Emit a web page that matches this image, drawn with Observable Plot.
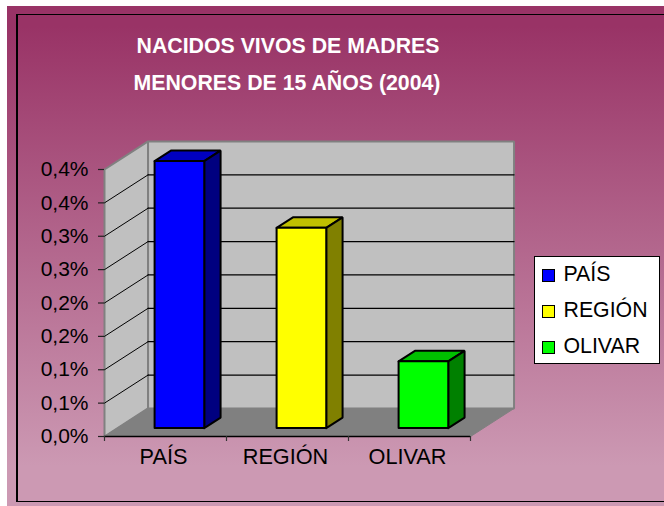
<!DOCTYPE html>
<html><head><meta charset="utf-8">
<script src="https://cdn.jsdelivr.net/npm/d3@7"></script>
<script src="https://cdn.jsdelivr.net/npm/@observablehq/plot@0.6"></script>
<style>
html,body{margin:0;padding:0;background:#fff;overflow:hidden}
#page{position:relative;width:664px;height:506px;overflow:hidden;font-family:"Liberation Sans",Arial,sans-serif}
#bg{position:absolute;left:7px;top:6px;width:657px;height:500px;background:linear-gradient(180deg,#993366 0%,#993366 4%,#CC99B3 92%,#CC99B3 100%)}
#edge{position:absolute;left:16px;top:14px;width:700px;height:486px;border:1.5px solid #000;border-left-width:2px}
#chart{position:absolute;left:0;top:0}
.title{position:absolute;left:88px;width:400px;text-align:center;color:#fff;font-weight:bold;font-size:21.3px;line-height:24px;white-space:nowrap}
#legend{position:absolute;left:534px;top:256px;width:124px;height:106px;background:#fff;border:1px solid #000;color:#000;font-size:21.3px}
#legend .row{position:absolute;left:7px;height:24px;line-height:24px;white-space:nowrap}
#legend .sw{position:absolute;left:0;top:7px;width:11px;height:11px;border:1.5px solid #000}
#legend .lb{position:absolute;left:21.5px;top:0}
</style></head>
<body>
<div id="page">
<div id="bg"></div><div id="edge"></div>
<div id="chart"></div>
<div class="title" style="top:34px">NACIDOS VIVOS DE MADRES</div>
<div class="title" style="top:71px;left:87px">MENORES DE 15 AÑOS (2004)</div>
<div id="legend"></div>
</div>
<script>
const categories = ["PAÍS", "REGIÓN", "OLIVAR"];
const values = [0.40, 0.30, 0.10];
const tickValues = [0, 0.05, 0.10, 0.15, 0.20, 0.25, 0.30, 0.35, 0.40];
const tickLabels = ["0,0%", "0,1%", "0,1%", "0,2%", "0,2%", "0,3%", "0,3%", "0,4%", "0,4%"];
const frontColors = ["#0000FF", "#FFFF00", "#00FF00"];
const topColors = ["#0000C0", "#C0C000", "#00C000"];
const sideColors = ["#000080", "#808000", "#008000"];

// oblique projection, in data units (category widths and percent values)
const depthX = 0.357, depthY = 0.042;
const barWidth = 0.407, barShift = 0.007, barFront = 0.30, barBack = 0.675, n = categories.length, vMax = 0.40;
const P = (cat, val, d) => ({x: cat + d * depthX, y: val + d * depthY});
const poly = (pts, fill, stroke, strokeWidth) =>
  Plot.line([...pts, pts[0]], {x: "x", y: "y", fill, stroke, strokeWidth, curve: "linear", strokeLinejoin: "miter"});

const marks = [
  // walls and floor
  poly([P(0,0,0), P(0,0,1), P(0,vMax,1), P(0,vMax,0)], "#C0C0C0", "#808080", 2),
  poly([P(0,0,1), P(n,0,1), P(n,vMax,1), P(0,vMax,1)], "#C0C0C0", "#808080", 2),
  poly([P(0,0,0), P(n,0,0), P(n,0,1), P(0,0,1)], "#808080", "#808080", 1),
  // gridlines on side wall and back wall
  ...tickValues.slice(1, -1).flatMap(v => [
    Plot.line([P(0,v,0), P(0,v,1)], {x: "x", y: "y", stroke: "#000", strokeWidth: 1}),
    Plot.line([P(0,v,1), P(n,v,1)], {x: "x", y: "y", stroke: "#000", strokeWidth: 1.2})
  ]),
  // bars
  ...categories.flatMap((c, i) => {
    const l = i + 0.5 - barWidth / 2 + barShift, r = l + barWidth, v = values[i];
    return [
      poly([P(l,v,barFront), P(r,v,barFront), P(r,v,barBack), P(l,v,barBack)], topColors[i], "#000", 2),
      poly([P(r,0,barFront), P(r,0,barBack), P(r,v,barBack), P(r,v,barFront)], sideColors[i], "#000", 2),
      poly([P(l,0,barFront), P(r,0,barFront), P(r,v,barFront), P(l,v,barFront)], frontColors[i], "#000", 2)
    ];
  }),
  // axes
  Plot.ruleY([0], {x1: 0, x2: n, stroke: "#000", strokeWidth: 1.5}),
  Plot.axisY({ticks: tickValues, tickFormat: (d, i) => tickLabels[i], tickSize: 6, tickPadding: 10,
    fontSize: 21, label: null, stroke: "#222", strokeWidth: 1.2, fill: "#000"}),
  Plot.axisX({ticks: d3.range(n + 1), tickFormat: () => "", tickSize: 5, label: null, stroke: "#333", strokeWidth: 1.2}),
  Plot.axisX({ticks: categories.map((c, i) => i + 0.5), tickFormat: d => categories[d - 0.5], tickSize: 0, tickPadding: 12,
    fontSize: 21.7, label: null, dx: -2, fill: "#000"})
];

const plot = Plot.plot({
  width: 664, height: 506, marginLeft: 104, marginRight: 194, marginTop: 169, marginBottom: 70,
  style: {background: "transparent", fontFamily: "'Liberation Sans', Arial, sans-serif", overflow: "visible"},
  x: {type: "linear", domain: [0, 3], axis: null},
  y: {type: "linear", domain: [0, 0.4], axis: null},
  marks
});
document.getElementById("chart").appendChild(plot);

const legend = document.getElementById("legend");
categories.forEach((c, i) => {
  const row = document.createElement("div");
  row.className = "row";
  row.style.top = (5 + i * 36) + "px";
  row.innerHTML = `<span class="sw" style="background:${frontColors[i]}"></span><span class="lb">${c}</span>`;
  legend.appendChild(row);
});
</script>
</body></html>
